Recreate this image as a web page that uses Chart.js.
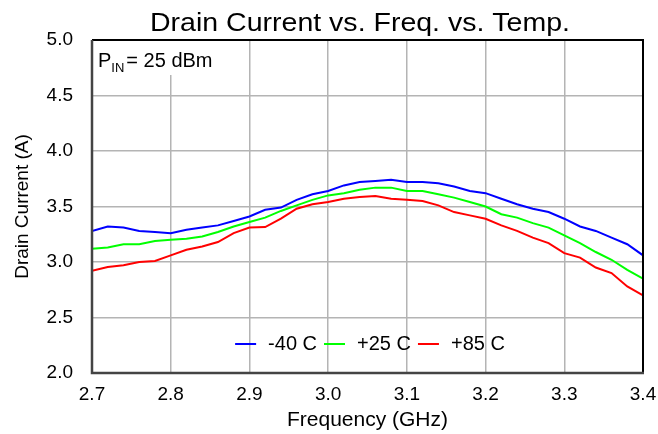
<!DOCTYPE html>
<html><head><meta charset="utf-8">
<script src="https://cdn.jsdelivr.net/npm/chart.js@4"></script>
<style>html,body{margin:0;padding:0;background:#fff}#wrap{width:658px;height:434px}</style>
</head><body><div id="wrap"><canvas id="c" width="658" height="434"></canvas></div>
<script>
const freqGHz = [2.70,2.72,2.74,2.76,2.78,2.80,2.82,2.84,2.86,2.88,2.90,2.92,2.94,2.96,2.98,3.00,3.02,3.04,3.06,3.08,3.10,3.12,3.14,3.16,3.18,3.20,3.22,3.24,3.26,3.28,3.30,3.32,3.34,3.36,3.38,3.40];
const currentM40 = [3.28,3.32,3.31,3.28,3.27,3.26,3.29,3.31,3.33,3.37,3.41,3.47,3.49,3.56,3.61,3.64,3.69,3.72,3.73,3.74,3.72,3.72,3.71,3.68,3.64,3.62,3.57,3.52,3.48,3.45,3.39,3.32,3.28,3.22,3.16,3.06];
const currentP25 = [3.12,3.13,3.16,3.16,3.19,3.20,3.21,3.23,3.27,3.32,3.36,3.40,3.46,3.51,3.56,3.60,3.62,3.65,3.67,3.67,3.64,3.64,3.61,3.58,3.54,3.50,3.43,3.40,3.35,3.31,3.24,3.17,3.09,3.02,2.93,2.85];
const currentP85 = [2.92,2.955,2.97,3.00,3.01,3.06,3.11,3.14,3.18,3.26,3.31,3.315,3.39,3.48,3.52,3.54,3.57,3.585,3.595,3.57,3.56,3.55,3.51,3.45,3.42,3.39,3.33,3.28,3.22,3.17,3.08,3.04,2.95,2.90,2.78,2.70];
const seriesLabels = ['-40 C','+25 C','+85 C'];
const seriesColors = ['#0000ff','#00ff00','#ff0000'];
const xTicks = [2.7,2.8,2.9,3.0,3.1,3.2,3.3,3.4];
const yTicks = [2.0,2.5,3.0,3.5,4.0,4.5,5.0];
const titleText = 'Drain Current vs. Freq. vs. Temp.';

const FONT = "'Liberation Sans', Arial, sans-serif";
const toPts = vals => freqGHz.map((f,i)=>({x:f,y:vals[i]}));
const allSeries = [currentM40, currentP25, currentP85];

const decor = {
  id:'decor',
  beforeDatasetsDraw(chart){
    const {ctx, chartArea:a} = chart;
    ctx.save();
    ctx.fillStyle = '#fff';
    ctx.fillRect(a.left+1, a.top+1, 130, 34);
    ctx.fillStyle = '#000';
    ctx.textBaseline = 'alphabetic';
    ctx.textAlign = 'left';
    ctx.font = '20px ' + FONT;
    let x = a.left + 6, y = a.top + 27;
    ctx.fillText('P', x, y);
    x += ctx.measureText('P').width;
    ctx.font = '13px ' + FONT;
    ctx.fillText('IN', x, y + 5);
    x += ctx.measureText('IN').width + 2;
    ctx.font = '20px ' + FONT;
    ctx.fillText('= 25 dBm', x, y);
    ctx.restore();
  },
  afterDatasetsDraw(chart){
    const {ctx, chartArea:a} = chart;
    ctx.save();
    ctx.lineWidth = 2;
    ctx.strokeStyle = '#000';
    ctx.beginPath();
    ctx.moveTo(a.left, a.top); ctx.lineTo(a.right, a.top); ctx.lineTo(a.right, a.bottom);
    ctx.stroke();
    ctx.strokeStyle = '#444';
    ctx.lineWidth = 2.5;
    ctx.beginPath();
    ctx.moveTo(a.left, a.top); ctx.lineTo(a.left, a.bottom); ctx.lineTo(a.right+1, a.bottom);
    ctx.stroke();
    // legend
    ctx.font = '20px ' + FONT;
    ctx.textBaseline = 'middle';
    ctx.textAlign = 'left';
    const lineW = 21, gap1 = 12, gap2 = 7;
    const ds = chart.data.datasets;
    let total = 0;
    ds.forEach((d,i)=>{ total += lineW + gap1 + ctx.measureText(d.label).width + (i<ds.length-1?gap2:0); });
    let lx = 370 - total/2;
    const ly = a.bottom - 29;
    ds.forEach((d,i)=>{
      ctx.strokeStyle = d.borderColor; ctx.lineWidth = 2;
      ctx.beginPath(); ctx.moveTo(lx, ly); ctx.lineTo(lx+lineW, ly); ctx.stroke();
      lx += lineW + gap1;
      ctx.fillStyle = '#000';
      ctx.fillText(d.label, lx, ly);
      lx += ctx.measureText(d.label).width + gap2;
    });
    ctx.restore();
  },
  afterDraw(chart){
    const {ctx} = chart;
    ctx.save();
    ctx.font = '26px ' + FONT;
    ctx.fillStyle = '#000';
    ctx.textAlign = 'center';
    ctx.textBaseline = 'alphabetic';
    const w = ctx.measureText(titleText).width;
    const sx = 420 / w;
    ctx.translate(360, 31);
    ctx.scale(sx, 1);
    ctx.fillText(titleText, 0, 0);
    ctx.restore();
  }
};

new Chart(document.getElementById('c'), {
  type:'line',
  data:{ datasets: allSeries.map((v,i)=>({
    label: seriesLabels[i], data: toPts(v), borderColor: seriesColors[i], backgroundColor: seriesColors[i],
    borderWidth: 2, pointRadius: 0, tension: 0, fill:false
  }))},
  options:{
    responsive:false, animation:false, devicePixelRatio:1,
    layout:{padding:{top:40,right:15,left:0,bottom:0}},
    plugins:{legend:{display:false}, title:{display:false}, tooltip:{enabled:false}},
    scales:{
      x:{type:'linear', min:2.7, max:3.4,
        afterBuildTicks: s => { s.ticks = xTicks.map(v=>({value:v})); },
        afterFit: s => { s.height = 61; s.paddingLeft = 0; s.paddingRight = 0; },
        ticks:{callback:v=>Number(v).toFixed(1), font:{family:FONT,size:19}, color:'#000', padding:10, maxRotation:0},
        grid:{color:'#b4b4b4', lineWidth:1.5, drawTicks:false},
        border:{display:false},
        title:{display:true, text:'Frequency (GHz)', font:{family:FONT,size:21}, color:'#000', padding:{top:0,bottom:1}}
      },
      y:{type:'linear', min:2, max:5,
        afterBuildTicks: s => { s.ticks = yTicks.map(v=>({value:v})); },
        afterFit: s => { s.width = 92; s.paddingTop = 0; s.paddingBottom = 0; },
        ticks:{callback:v=>Number(v).toFixed(1), font:{family:FONT,size:19}, color:'#000', padding:19},
        grid:{color:'#b4b4b4', lineWidth:1.5, drawTicks:false},
        border:{display:false},
        title:{display:true, text:'Drain Current (A)', font:{family:FONT,size:19}, color:'#000', padding:{top:11,bottom:0}}
      }
    }
  },
  plugins:[decor]
});
</script></body></html>
